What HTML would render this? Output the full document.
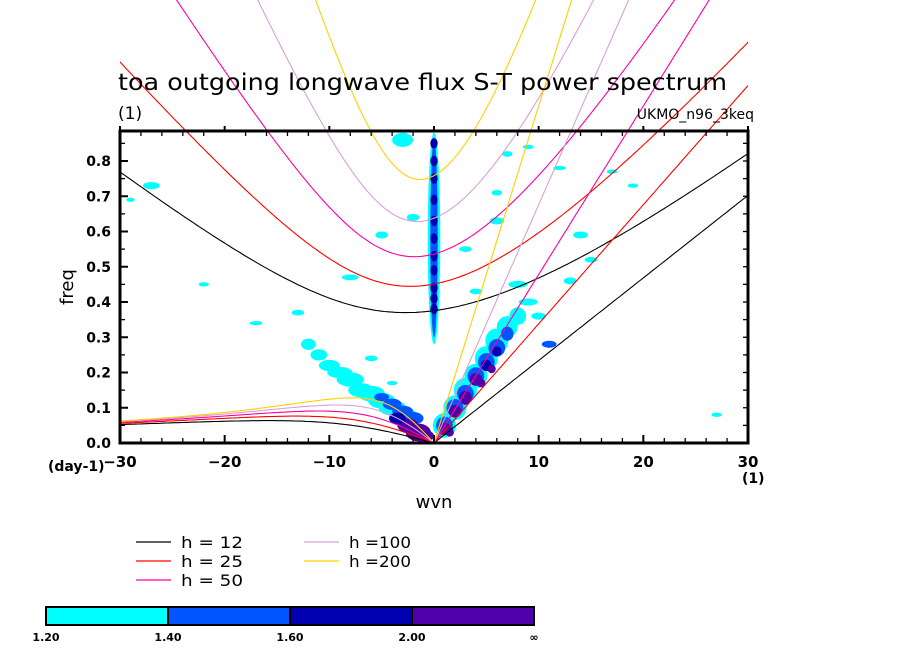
<!DOCTYPE html>
<html><head><meta charset="utf-8"><style>
body{margin:0;background:#fff;}
svg{display:block;}
text{font-family:"DejaVu Sans","Liberation Sans",sans-serif;fill:#000;}
</style></head><body>
<svg id="chart" width="904" height="654" viewBox="0 0 904 654" xmlns="http://www.w3.org/2000/svg">
<defs><clipPath id="cx"><rect x="120" y="0" width="628" height="443"/></clipPath>
<clipPath id="cp"><rect x="120" y="131" width="628" height="312"/></clipPath></defs>
<g id="shades" clip-path="url(#cp)"></g>
<g id="curves" clip-path="url(#cx)"></g>
<g id="axes"></g>
<text x="118" y="90" font-size="23" textLength="609" lengthAdjust="spacingAndGlyphs">toa outgoing longwave flux S-T power spectrum</text>
<text x="118" y="119" font-size="17">(1)</text>
<text x="754" y="119" font-size="14" text-anchor="end">UKMO_n96_3keq</text>
<text x="73" y="287" font-size="18" transform="rotate(-90 73 287)" text-anchor="middle">freq</text>
<text x="434" y="508" font-size="18" text-anchor="middle">wvn</text>
<text x="48" y="471" font-size="14" font-weight="bold">(day-1)</text>
<text x="742" y="483" font-size="14" font-weight="bold">(1)</text>
<g id="legend"></g>
<g id="cbar"></g>
</svg>
<script>
// ---- data ----
const depths = [12, 25, 50, 100, 200];
const depthColors = ['#000000', '#ff0000', '#ff00a0', '#d8a0d8', '#ffd000'];
const xTicks = [-30, -20, -10, 0, 10, 20, 30];
const yTicks = [0.0, 0.1, 0.2, 0.3, 0.4, 0.5, 0.6, 0.7, 0.8];
const levelLabels = ['1.20', '1.40', '1.60', '2.00', '\u221e'];
const levelColors = ['#00ffff', '#0055ff', '#0000b0', '#5000a8'];
// blobs: wavenumber, frequency, half-width (wvn), half-height (freq), level index
const blobK = [0,0,0,0,0,0,0,0,0,0,0,0,0, 1,2,3,4,5,6,7,8, 1,2,3,4,5,6,7, 1,2,3,4,5,6, 1.5,3,4.5,5.5,
 -3,-4,-5,-6,-7,-8,-9,-10,-11,-12, -2,-3,-4,-5, -1.5,-2.5,-3.5, -1,
 -9,-17,-27,-29,-22,-13,-8,-5,-3,3,6,9,12,14,15,17,11,8,10,7,13,19,27,-6,-4,-2,9,4,6];
const blobF = [0.58,0.58,0.85,0.80,0.75,0.69,0.63,0.58,0.53,0.49,0.44,0.41,0.38,
 0.05,0.10,0.15,0.19,0.24,0.29,0.33,0.36, 0.05,0.10,0.14,0.19,0.23,0.27,0.31, 0.04,0.09,0.13,0.18,0.22,0.26, 0.03,0.12,0.17,0.21,
 0.08,0.10,0.12,0.14,0.15,0.18,0.20,0.22,0.25,0.28, 0.07,0.09,0.11,0.13, 0.03,0.05,0.07, 0.02,
 0.20,0.34,0.73,0.69,0.45,0.37,0.47,0.59,0.86,0.55,0.63,0.40,0.78,0.59,0.52,0.77,0.28,0.45,0.36,0.82,0.46,0.73,0.08,0.24,0.17,0.64,0.84,0.43,0.71];
const blobW = [0.6,0.35,0.35,0.35,0.35,0.35,0.35,0.35,0.35,0.35,0.35,0.35,0.35,
 1.1,1.1,1.1,1.1,1.1,1.1,1.0,0.8, 0.8,0.8,0.8,0.8,0.8,0.8,0.6, 0.6,0.6,0.6,0.6,0.5,0.45, 0.4,0.4,0.4,0.4,
 1.3,1.3,1.3,1.3,1.2,1.3,1.2,1.0,0.8,0.7, 1.0,1.0,0.9,0.7, 1.2,1.0,0.8, 1.0,
 0.7,0.6,0.8,0.4,0.5,0.6,0.8,0.6,1.0,0.6,0.7,0.9,0.6,0.7,0.6,0.5,0.7,0.9,0.7,0.5,0.6,0.5,0.5,0.6,0.5,0.6,0.5,0.6,0.5];
const blobH = [0.30,0.28,0.015,0.015,0.015,0.015,0.015,0.015,0.015,0.015,0.015,0.015,0.015,
 0.035,0.035,0.035,0.035,0.035,0.035,0.03,0.025, 0.025,0.025,0.025,0.025,0.025,0.025,0.02, 0.018,0.018,0.018,0.018,0.016,0.014, 0.012,0.012,0.012,0.012,
 0.022,0.022,0.022,0.022,0.02,0.02,0.016,0.016,0.016,0.016, 0.018,0.016,0.016,0.012, 0.025,0.02,0.016, 0.018,
 0.008,0.006,0.01,0.006,0.006,0.008,0.008,0.01,0.02,0.008,0.01,0.01,0.006,0.01,0.008,0.006,0.01,0.01,0.01,0.008,0.01,0.006,0.006,0.008,0.006,0.01,0.006,0.008,0.008];
const blobL = [0,1,2,2,2,2,2,2,2,2,2,2,2, 0,0,0,0,0,0,0,0, 1,1,1,1,1,1,1, 3,3,3,3,2,2, 3,3,3,3,
 0,0,0,0,0,0,0,0,0,0, 1,1,1,1, 3,3,2, 3,
 0,0,0,0,0,0,0,0,0,0,0,0,0,0,0,0,1,0,0,0,0,0,0,0,0,0,0,0,0];

// ---- axes functions ----
const X0=120, X1=748, Y0=443, YT=131;
const xs = k => X0 + (k + 30) / 60 * (X1 - X0);
const ys = f => Y0 - f * 352.5;
const NS='http://www.w3.org/2000/svg';
function mk(tag, attrs, parent){const e=document.createElementNS(NS,tag);for(const a in attrs)e.setAttribute(a,attrs[a]);parent.appendChild(e);return e;}

// shades
const sh=document.getElementById('shades');
for(let i=0;i<blobK.length;i++){
  const e=mk('ellipse',{cx:xs(blobK[i]),cy:ys(blobF[i]),rx:blobW[i]*10.47,ry:blobH[i]*352.5,fill:levelColors[blobL[i]]},sh);
  
  
}

// dispersion curves (n=1 equatorial waves)
const g=9.81, beta=2.289e-11, a=6.371e6, toCpd=86400/(2*Math.PI);
function roots(s,h){
  const c=Math.sqrt(g*h), k=s/a;
  const p=-(c*c*k*k+3*beta*c), q=-beta*c*c*k;
  const m=2*Math.sqrt(-p/3);
  let arg=3*q/(2*p)*Math.sqrt(-3/p); arg=Math.max(-1,Math.min(1,arg));
  const th=Math.acos(arg)/3;
  const r=[0,1,2].map(j=>m*Math.cos(th-2*Math.PI*j/3)*toCpd);
  return {ig:Math.max(...r), kel:c*k*toCpd, ros:r.filter(v=>v>0 && v<Math.max(...r)*0.99)};
}
const cv=document.getElementById('curves');
depths.forEach((h,i)=>{
  let ig='', ro='', ke='';
  for(let s=-36;s<=36.001;s+=0.25){
    const r=roots(s,h);
    ig+=(ig?'L':'M')+xs(s).toFixed(1)+','+ys(r.ig).toFixed(1);
    if(s<=0){const rv=r.ros.length?Math.min(...r.ros):0; ro+=(ro?'L':'M')+xs(s).toFixed(1)+','+ys(rv).toFixed(1);}
    if(s>=0) ke+=(ke?'L':'M')+xs(s).toFixed(1)+','+ys(r.kel).toFixed(1);
  }
  [['ig',ig],['rossby',ro],['kelvin',ke]].forEach(([n,d])=>{
    const p=mk('path',{d:d,fill:'none',stroke:depthColors[i],'stroke-width':1.1},cv);
    
    
  });
});

// axes
const ax=document.getElementById('axes');
mk('rect',{x:X0,y:YT,width:X1-X0,height:Y0-YT,fill:'none',stroke:'#000','stroke-width':3},ax);
for(let k=-30;k<=30;k+=2){
  const x=xs(k), maj=(k%10===0);
  mk('line',{x1:x,y1:Y0,x2:x,y2:Y0-(maj?8:5),stroke:'#000','stroke-width':maj?2:1.3},ax);
  mk('line',{x1:x,y1:YT,x2:x,y2:maj?YT-5:YT+5,stroke:'#000','stroke-width':maj?2:1.3},ax);
}
for(let f=0;f<=0.88;f+=0.05){
  const y=ys(f), maj=Math.abs(f*10-Math.round(f*10))<1e-6;
  mk('line',{x1:X0,y1:y,x2:X0+(maj?8:5),y2:y,stroke:'#000','stroke-width':maj?2:1.3},ax);
  mk('line',{x1:X1,y1:y,x2:X1-5,y2:y,stroke:'#000','stroke-width':1.3},ax);
}
xTicks.forEach(k=>{
  const t=mk('text',{x:xs(k),y:Y0+24,'font-size':15,'font-weight':'bold','text-anchor':'middle'},ax);
  t.textContent=(k<0?'\u2212':'')+Math.abs(k);
  
  
});
yTicks.forEach(f=>{
  const t=mk('text',{x:X0-9,y:ys(f)+5,'font-size':14,'font-weight':'bold','text-anchor':'end'},ax);
  t.textContent=f.toFixed(1);
  
  
});

// legend
const lg=document.getElementById('legend');
const legX=[136,136,136,304,304], legY=[542,561,580,542,561];
const legTxt=['h = 12','h = 25','h = 50','h =100','h =200'];
depths.forEach((h,i)=>{
  mk('line',{x1:legX[i],y1:legY[i],x2:legX[i]+35,y2:legY[i],stroke:depthColors[i],'stroke-width':1.2},lg);
  const t=mk('text',{x:legX[i]+45,y:legY[i]+6,'font-size':16,'xml:space':'preserve',textLength:62,lengthAdjust:'spacingAndGlyphs'},lg);
  t.textContent=legTxt[i];
  
  
});

// colorbar
const cb=document.getElementById('cbar');
const cbX=[46,168,290,412,534];
levelColors.forEach((c,i)=>{
  const r=mk('rect',{x:cbX[i],y:607,width:cbX[i+1]-cbX[i],height:18,fill:c,stroke:'#000','stroke-width':2},cb);
  
  
});
levelLabels.forEach((l,i)=>{
  const t=mk('text',{x:cbX[i],y:641,'font-size':11,'font-weight':'bold','text-anchor':'middle'},cb);
  t.textContent=l;
  
  
});
</script>
</body></html>
